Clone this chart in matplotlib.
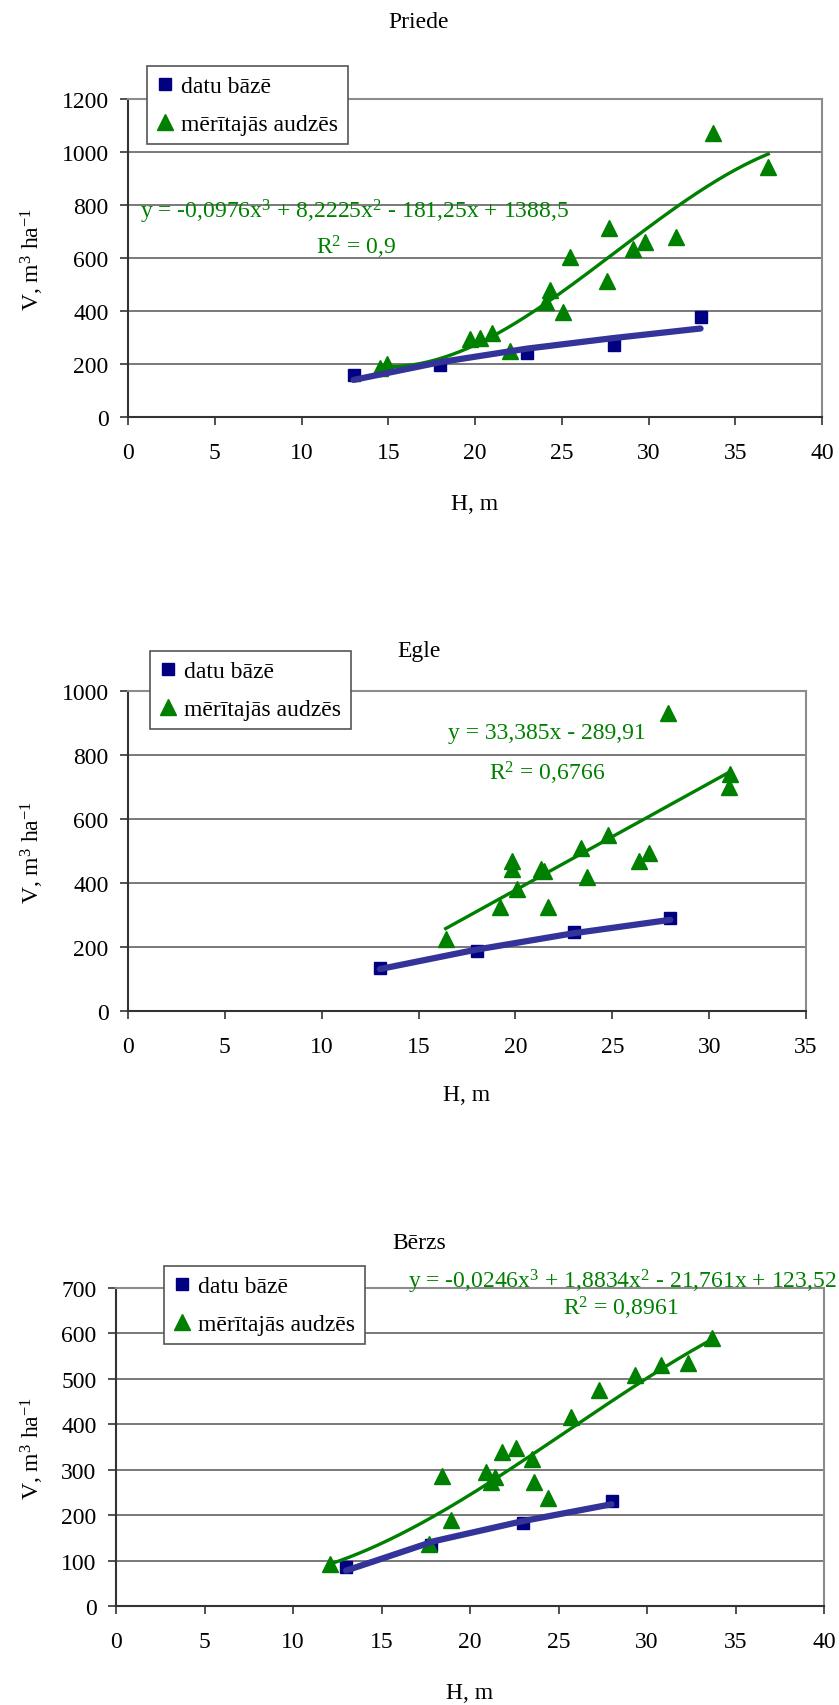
import matplotlib.pyplot as plt
import numpy as np

plt.rcParams['font.family'] = ['Liberation Serif', 'DejaVu Serif']
plt.rcParams['mathtext.fontset'] = 'custom'
plt.rcParams['mathtext.rm'] = 'Liberation Serif'
plt.rcParams['mathtext.it'] = 'Liberation Serif:italic'
plt.rcParams['font.size'] = 17

labels = ['datu bāzē', 'mērītajās audzēs']

# Priede
priede_db_h = [13, 18, 23, 28, 33]
priede_db_v = [160, 197, 243, 272, 377]
priede_line_h = [13, 18, 23, 28, 33]
priede_line_v = [140, 207, 258, 298, 334]
priede_m_h = [14.5, 14.9, 19.7, 20.3, 21.0, 22.0, 24.1, 24.3, 25.1, 25.5,
              27.6, 27.7, 29.1, 29.8, 31.6, 33.7, 36.9]
priede_m_v = [185, 200, 295, 300, 318, 250, 435, 478, 395, 605,
              512, 715, 635, 660, 680, 1070, 945]
priede_coef = [-0.0976, 8.2225, -181.25, 1388.5]

# Egle
egle_db_h = [13, 18, 23, 28]
egle_db_v = [133, 189, 247, 292]
egle_line_h = [13, 18, 23, 28]
egle_line_v = [131, 192, 243, 285]
egle_m_h = [16.4, 19.2, 19.8, 19.8, 20.1, 21.3, 21.5, 21.7, 23.4, 23.7,
            24.8, 26.4, 26.9, 27.9, 31.0, 31.1]
egle_m_v = [225, 325, 470, 445, 380, 445, 437, 325, 508, 420,
            550, 470, 495, 930, 700, 740]
egle_coef = [33.385, -289.91]

# Bērzs
berzs_db_h = [13, 17.8, 23, 28]
berzs_db_v = [85, 135, 182, 232]
berzs_line_h = [13, 18, 23, 28]
berzs_line_v = [78, 143, 187, 224]
berzs_m_h = [12.1, 17.7, 18.4, 18.9, 20.9, 21.2, 21.4, 21.8, 22.6, 23.5,
             23.6, 24.4, 25.7, 27.3, 29.3, 30.8, 32.3, 33.7]
berzs_m_v = [92, 136, 287, 190, 295, 272, 283, 338, 347, 323,
             272, 237, 416, 475, 509, 530, 536, 590]
berzs_coef = [-0.0246, 1.8834, -21.761, 123.52]

W, H = 839, 1706
fig = plt.figure(figsize=(W / 100, H / 100), dpi=100)
green = '#008000'


def px(x, y):
    return x / W, 1 - y / H


def panel(box, title, title_y, xlabel_y, xmax, ymax, ystep,
          db_h, db_v, line_h, line_v, m_h, m_v, coef,
          eq, eq_pos, r2, r2_pos, leg_pos):
    l, t, r, b = box
    ax = fig.add_axes([l / W, 1 - b / H, (r - l) / W, (b - t) / H])
    ax.set_xlim(0, xmax)
    ax.set_ylim(0, ymax)
    ax.set_xticks(np.arange(0, xmax + 1, 5))
    ax.set_yticks(np.arange(0, ymax + 1, ystep))
    ax.grid(axis='y', color='#6e6e6e', linewidth=1.3)
    ax.set_axisbelow(True)
    for s in ['top', 'right']:
        ax.spines[s].set_color('#8c8c8c')
        ax.spines[s].set_linewidth(1.5)
    for s in ['left', 'bottom']:
        ax.spines[s].set_color('#333333')
        ax.spines[s].set_linewidth(1.5)
    ax.tick_params(axis='x', length=6, width=1.2, pad=12, color='#333333')
    ax.tick_params(axis='y', length=6, width=1.2, pad=8, color='#333333')

    ax.plot(db_h, db_v, 's', color='#000080', markersize=8.5, label=labels[0],
            zorder=3)
    ax.plot(m_h, m_v, '^', color=green, markersize=11, label=labels[1],
            zorder=3)
    xs = np.linspace(min(m_h), max(m_h), 200)
    ax.plot(xs, np.polyval(coef, xs), color=green, linewidth=2.4, zorder=4)
    ax.plot(line_h, line_v, color='#333399', linewidth=4.5,
            solid_capstyle='round', zorder=4)

    leg = ax.legend(loc='upper left', bbox_to_anchor=px(*leg_pos),
                    bbox_transform=fig.transFigure, borderaxespad=0,
                    fancybox=False, framealpha=1, edgecolor='#555555',
                    handlelength=0.7, handletextpad=0.35, labelspacing=0.7,
                    borderpad=0.4, fontsize=17)
    leg.get_frame().set_linewidth(1.2)

    fig.text(*px(419, title_y), title, ha='center', va='center')
    fig.text(*px((l + r) / 2, xlabel_y), 'H, m', ha='center', va='center')
    fig.text(*px(32, (t + b) / 2), r'V, m$^{3}$ ha$^{-1}$', rotation=90,
             ha='center', va='center')
    fig.text(*px(*eq_pos), eq, color=green, ha='center', va='center')
    fig.text(*px(*r2_pos), r2, color=green, ha='center', va='center')
    return ax


panel((128, 100, 822, 418), 'Priede', 22, 505, 40, 1200, 200,
      priede_db_h, priede_db_v, priede_line_h, priede_line_v,
      priede_m_h, priede_m_v, priede_coef,
      r'y = -0,0976x$^3$ + 8,2225x$^2$ - 181,25x + 1388,5', (355, 212),
      r'R$^2$ = 0,9', (356, 247), (147, 67))

panel((128, 692, 806, 1012), 'Egle', 651, 1096, 35, 1000, 200,
      egle_db_h, egle_db_v, egle_line_h, egle_line_v,
      egle_m_h, egle_m_v, egle_coef,
      r'y = 33,385x - 289,91', (547, 733),
      r'R$^2$ = 0,6766', (547, 773), (150, 652))

panel((116, 1289, 824, 1607), 'Bērzs', 1244, 1694, 40, 700, 100,
      berzs_db_h, berzs_db_v, berzs_line_h, berzs_line_v,
      berzs_m_h, berzs_m_v, berzs_coef,
      r'y = -0,0246x$^3$ + 1,8834x$^2$ - 21,761x + 123,52', (622, 1282),
      r'R$^2$ = 0,8961', (621, 1308), (164, 1267))

fig.savefig('out.png', dpi=100)
